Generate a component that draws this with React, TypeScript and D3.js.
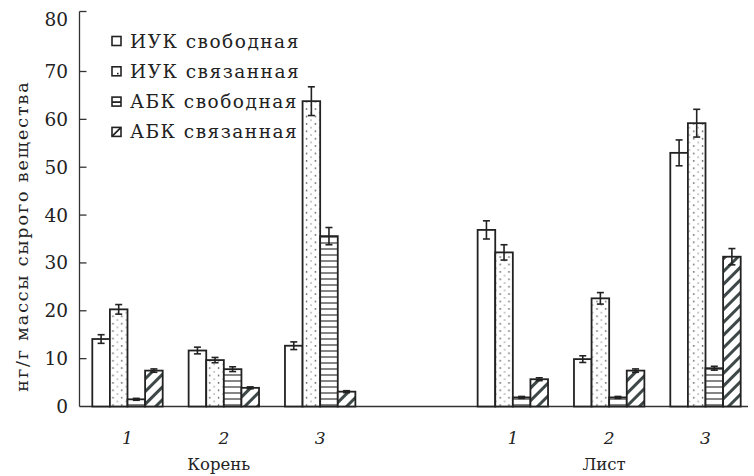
import React from "react";
import * as d3 from "d3";

const groups = ["К1", "К2", "К3", "gap", "Л1", "Л2", "Л3"];
const groupLabels: Record<string, string> = { К1: "1", К2: "2", К3: "3", Л1: "1", Л2: "2", Л3: "3" };
const organs = [
  { name: "Корень", mid: "К2" },
  { name: "Лист", mid: "Л2" },
];
const series = ["ИУК свободная", "ИУК связанная", "АБК свободная", "АБК связанная"];

// values per group (К1,К2,К3,Л1,Л2,Л3)
const iaaFree = [14.1, 11.7, 12.7, 36.9, 9.9, 53.0];
const iaaBound = [20.3, 9.7, 63.8, 32.2, 22.6, 59.2];
const abaFree = [1.5, 7.8, 35.6, 1.9, 1.9, 8.0];
const abaBound = [7.5, 3.9, 3.1, 5.7, 7.5, 31.3];

const iaaFreeErr = [0.9, 0.7, 0.8, 1.9, 0.7, 2.7];
const iaaBoundErr = [1.0, 0.55, 3.0, 1.6, 1.2, 2.9];
const abaFreeErr = [0.2, 0.5, 1.8, 0.2, 0.2, 0.4];
const abaBoundErr = [0.35, 0.2, 0.2, 0.3, 0.35, 1.7];

const yTicks = [0, 10, 20, 30, 40, 50, 60, 70, 80];

const dataGroups = ["К1", "К2", "К3", "Л1", "Л2", "Л3"];
const allValues = [iaaFree, iaaBound, abaFree, abaBound];
const allErrs = [iaaFreeErr, iaaBoundErr, abaFreeErr, abaBoundErr];
const fills = ["#ffffff", "url(#dots)", "url(#hlines)", "url(#diag)"];

const FONT = "DejaVu Serif";

export default function App() {
  const W = 754;
  const H = 476;
  const y = d3.scaleLinear().domain([0, 70]).range([406.5, 71.5]);
  const x = d3.scalePoint<string>().domain(groups).range([127.5, 705.5]);
  const inner = d3.scaleBand<string>().domain(series).range([-35.2, 35.2]).padding(0);
  const axisX = 79.5;
  const axisTop = 11.5;
  const rightEnd = 748;
  const txt = { fontFamily: FONT, fill: "#222" } as React.CSSProperties;

  return (
    <svg width={W} height={H} style={{ position: "absolute", left: 0, top: 0, background: "#fff" }}>
      <defs>
        <pattern id="dots" patternUnits="userSpaceOnUse" width="8.8" height="7.4">
          <rect width="8.8" height="7.4" fill="#fff" />
          <circle cx="3" cy="1.8" r="0.75" fill="#777" />
          <circle cx="7.4" cy="5.5" r="0.8" fill="#555" />
        </pattern>
        <pattern id="hlines" patternUnits="userSpaceOnUse" width="8" height="6">
          <rect width="8" height="6" fill="#fff" />
          <line x1="0" y1="3" x2="8" y2="3" stroke="#444" strokeWidth="1.3" />
        </pattern>
        <pattern id="diag" patternUnits="userSpaceOnUse" width="9" height="9" patternTransform="rotate(45)">
          <rect width="9" height="9" fill="#fff" />
          <line x1="0" y1="0" x2="0" y2="9" stroke="#3e4848" strokeWidth="6" />
        </pattern>
      </defs>

      {/* axes */}
      <line x1={axisX} y1={axisTop} x2={axisX} y2={y(0)} stroke="#333" strokeWidth={1.3} />
      <line x1={axisX} y1={axisTop} x2={axisX + 7} y2={axisTop} stroke="#333" strokeWidth={1.3} />
      <line x1={axisX} y1={y(0)} x2={rightEnd} y2={y(0)} stroke="#333" strokeWidth={1.3} />
      {yTicks.map((t) => (
        <g key={t}>
          {t > 0 && t < 80 && (
            <line x1={axisX} x2={axisX + 7} y1={y(t)} y2={y(t)} stroke="#333" strokeWidth={1.3} />
          )}
          <text
            x={68}
            y={t === 80 ? y(t) - 4 : y(t)}
            textAnchor="end"
            dominantBaseline="central"
            fontSize={18.5}
            style={txt}
          >
            {t}
          </text>
        </g>
      ))}

      <text
        transform={`translate(22,${236}) rotate(-90)`}
        textAnchor="middle"
        dominantBaseline="central"
        fontSize={17.5}
        letterSpacing={1.9}
        style={txt}
      >
        нг/г массы сырого вещества
      </text>

      {/* bars */}
      {dataGroups.map((g, gi) =>
        series.map((s, si) => {
          const v = allValues[si][gi];
          const e = allErrs[si][gi];
          const bx = (x(g) as number) + (inner(s) as number);
          const bw = inner.bandwidth();
          const cx = bx + bw / 2;
          return (
            <g key={g + s}>
              <rect x={bx} y={y(v)} width={bw} height={y(0) - y(v)} fill={fills[si]} stroke="#222" strokeWidth={1.8} />
              <line x1={cx} x2={cx} y1={y(v + e)} y2={y(v - e)} stroke="#222" strokeWidth={1.6} />
              <line x1={cx - 3.5} x2={cx + 3.5} y1={y(v + e)} y2={y(v + e)} stroke="#222" strokeWidth={1.6} />
              <line x1={cx - 3.5} x2={cx + 3.5} y1={y(v - e)} y2={y(v - e)} stroke="#222" strokeWidth={1.6} />
            </g>
          );
        })
      )}

      {/* group labels */}
      {dataGroups.map((g) => (
        <text
          key={g}
          x={x(g) as number}
          y={438}
          textAnchor="middle"
          dominantBaseline="central"
          fontStyle="italic"
          fontSize={17}
          style={txt}
        >
          {groupLabels[g]}
        </text>
      ))}
      {organs.map((o) => (
        <text
          key={o.name}
          x={(x(o.mid) as number) - 5}
          y={464}
          textAnchor="middle"
          dominantBaseline="central"
          fontSize={16.5}
          style={txt}
        >
          {o.name}
        </text>
      ))}

      {/* legend */}
      {series.map((s, i) => {
        const ly = 41 + i * 30.3;
        const sx = 112;
        const sz = 9;
        return (
          <g key={s}>
            <rect x={sx} y={ly - sz / 2} width={sz} height={sz} fill="#fff" stroke="#222" strokeWidth={1.6} />
            {i === 1 && <rect x={sx + 5} y={ly + 1.5} width={1.6} height={1.6} fill="#222" />}
            {i === 2 && <line x1={sx} x2={sx + sz} y1={ly + 0.5} y2={ly + 0.5} stroke="#222" strokeWidth={1.8} />}
            {i === 3 && <line x1={sx} x2={sx + sz} y1={ly + sz / 2} y2={ly - sz / 2} stroke="#222" strokeWidth={1.8} />}
            <text x={130} y={ly} dominantBaseline="central" fontSize={18.5} letterSpacing={1.5} style={txt}>
              {s}
            </text>
          </g>
        );
      })}
    </svg>
  );
}
